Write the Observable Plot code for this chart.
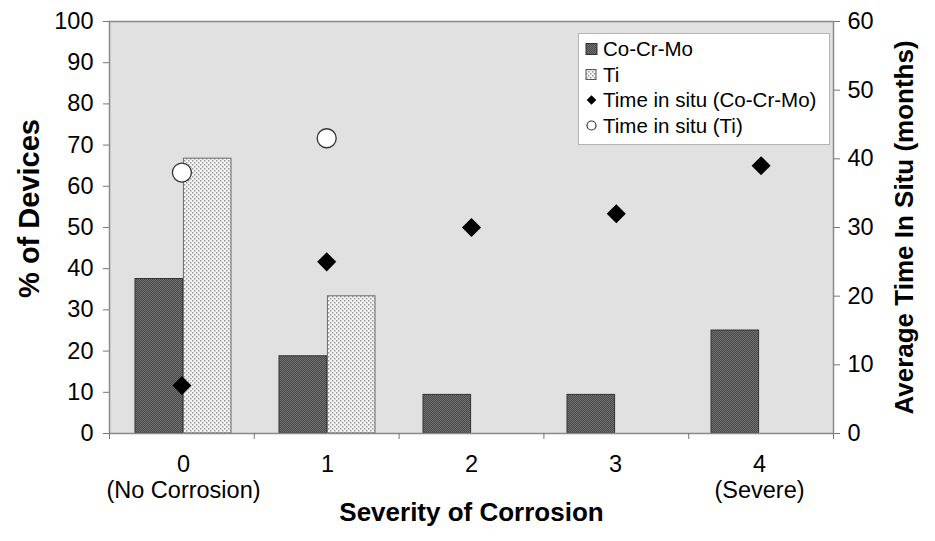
<!DOCTYPE html>
<html><head><meta charset="utf-8">
<script src="https://cdn.jsdelivr.net/npm/d3@7"></script>
<script src="https://cdn.jsdelivr.net/npm/@observablehq/plot@0.6"></script>
<style>
body{margin:0;background:#fff}
#chart{position:relative;width:935px;height:541px;font-family:"Liberation Sans",Arial,sans-serif}
#chart svg{position:absolute;left:0;top:0}
</style>
</head><body><div id="chart"></div>
<script>
// ---- data ----
const categories = [0, 1, 2, 3, 4];
const categoryLabels = ["0\n(No Corrosion)", "1", "2", "3", "4\n(Severe)"];
const pctCoCrMo = [37.5, 18.75, 9.375, 9.375, 25];
const pctTi = [66.7, 33.3, null, null, null];
const timeCoCrMo = [7, 25, 30, 32, 39];
const timeTi = [38, 43, null, null, null];
const leftTicks = [0, 10, 20, 30, 40, 50, 60, 70, 80, 90, 100];
const rightTicks = [0, 10, 20, 30, 40, 50, 60];
const boundaryTicks = [-0.5, 0.5, 1.5, 2.5, 3.5, 4.5];
const legendLabels = ["Co-Cr-Mo", "Ti", "Time in situ (Co-Cr-Mo)", "Time in situ (Ti)"];
const xTitle = "Severity of Corrosion";
const yTitle = "% of Devices";
const y2Title = "Average Time In Situ (months)";

const co = categories.map((c, i) => ({cat: c, v: pctCoCrMo[i]})).filter(d => d.v != null);
const ti = categories.map((c, i) => ({cat: c, v: pctTi[i]})).filter(d => d.v != null);
const tCo = categories.map((c, i) => ({cat: c, t: timeCoCrMo[i]})).filter(d => d.t != null);
const tTi = categories.map((c, i) => ({cat: c, t: timeTi[i]})).filter(d => d.t != null);

const W = 935, H = 541;
const M = {marginTop: 21, marginRight: 102, marginBottom: 108, marginLeft: 109};
const FONT = '"Liberation Sans", Arial, sans-serif';
const TICK_FS = 23.5;
const chart = document.getElementById("chart");

// patterns
const defs = d3.select(chart).append("svg").attr("width", 0).attr("height", 0).append("defs");
const pc = defs.append("pattern").attr("id", "patCo").attr("patternUnits", "userSpaceOnUse").attr("width", 2).attr("height", 2);
pc.append("rect").attr("width", 2).attr("height", 2).attr("fill", "#4c4c4c");
pc.append("rect").attr("width", 1).attr("height", 1).attr("fill", "#6e6e6e");
pc.append("rect").attr("x", 1).attr("y", 1).attr("width", 1).attr("height", 1).attr("fill", "#6e6e6e");
const pt = defs.append("pattern").attr("id", "patTi").attr("patternUnits", "userSpaceOnUse").attr("width", 4).attr("height", 4);
pt.append("rect").attr("width", 4).attr("height", 4).attr("fill", "#f4f4f4");
pt.append("rect").attr("width", 1.5).attr("height", 1.5).attr("fill", "#9a9a9a");
pt.append("rect").attr("x", 2).attr("y", 2).attr("width", 1.5).attr("height", 1.5).attr("fill", "#9a9a9a");

const main = Plot.plot({
  width: W, height: H, ...M,
  x: {type: "band", domain: categories, padding: 0, label: null},
  y: {domain: [0, 100], label: null},
  style: {fontFamily: FONT, fontSize: TICK_FS + "px", color: "#000", background: "transparent", overflow: "visible"},
  marks: [
    Plot.frame({fill: "#e1e1e1"}),
    Plot.barY(co, {x: "cat", y: "v", fill: "url(#patCo)", stroke: "#333", strokeWidth: 1, insetLeft: 24, insetRight: 72.4}),
    Plot.barY(ti, {x: "cat", y: "v", fill: "url(#patTi)", stroke: "#6a6a6a", strokeWidth: 1, insetLeft: 72.4, insetRight: 24}),
    Plot.frame({stroke: "#8a8a8a", strokeWidth: 1.5}),
    Plot.axisY({ticks: leftTicks, tickSize: 6, tickPadding: 10, fontSize: TICK_FS, stroke: "#777", label: null}),
    Plot.axisX({tickSize: 0, tickPadding: 20, fontSize: TICK_FS, lineHeight: 1.1, tickFormat: d => categoryLabels[d], label: null}),
    Plot.text([xTitle], {frameAnchor: "bottom", dy: 87, fontSize: 26, fontWeight: "bold", textAnchor: "middle"}),
    Plot.text([yTitle], {frameAnchor: "left", dx: -80, dy: -19, rotate: -90, fontSize: 29, fontWeight: "bold", textAnchor: "middle"}),
    Plot.text([y2Title], {frameAnchor: "right", dx: 71, dy: 0, rotate: -90, fontSize: 26, fontWeight: "bold", textAnchor: "middle"})
  ]
});
chart.appendChild(main);

const over = Plot.plot({
  width: W, height: H, ...M,
  x: {domain: [-0.5, 4.5], label: null},
  y: {domain: [0, 60], label: null},
  style: {fontFamily: FONT, fontSize: TICK_FS + "px", color: "#000", background: "transparent", overflow: "visible"},
  marks: [
    Plot.axisX({ticks: boundaryTicks, tickSize: 6, tickFormat: () => "", stroke: "#777", label: null}),
    Plot.axisY({anchor: "right", ticks: rightTicks, tickSize: 6, tickPadding: 8, fontSize: TICK_FS, stroke: "#777", label: null}),
    Plot.dot(tCo, {x: "cat", y: "t", symbol: "diamond2", r: 8.6, fill: "#000"}),
    Plot.dot(tTi, {x: "cat", y: "t", symbol: "circle", r: 9.5, fill: "#fff", stroke: "#333", strokeWidth: 1.3})
  ]
});
chart.appendChild(over);

// legend
const lg = d3.select(chart).append("svg")
  .attr("width", 252).attr("height", 112)
  .style("left", "578px").style("top", "33px");
lg.append("rect").attr("x", 0.5).attr("y", 0.5).attr("width", 251).attr("height", 111)
  .attr("fill", "#fff").attr("stroke", "#b5b5b5");
const rowY = i => 16 + i * 25.5;
lg.append("rect").attr("x", 8).attr("y", rowY(0) - 5.5).attr("width", 11).attr("height", 11).attr("fill", "url(#patCo)").attr("stroke", "#333");
lg.append("rect").attr("x", 8).attr("y", rowY(1) - 5).attr("width", 10).attr("height", 10).attr("fill", "url(#patTi)").attr("stroke", "#555");
lg.append("path").attr("transform", `translate(13.5,${rowY(2)})`).attr("d", d3.symbol(d3.symbolDiamond2, 60)()).attr("fill", "#000");
lg.append("circle").attr("cx", 13.5).attr("cy", rowY(3)).attr("r", 4.5).attr("fill", "#fff").attr("stroke", "#333").attr("stroke-width", 1.2);
lg.selectAll("text.l").data(legendLabels).join("text")
  .attr("x", 25).attr("y", (d, i) => rowY(i)).attr("dy", "0.35em")
  .attr("font-family", FONT).attr("font-size", 20.5).attr("fill", "#000").text(d => d);
</script>
</body></html>
